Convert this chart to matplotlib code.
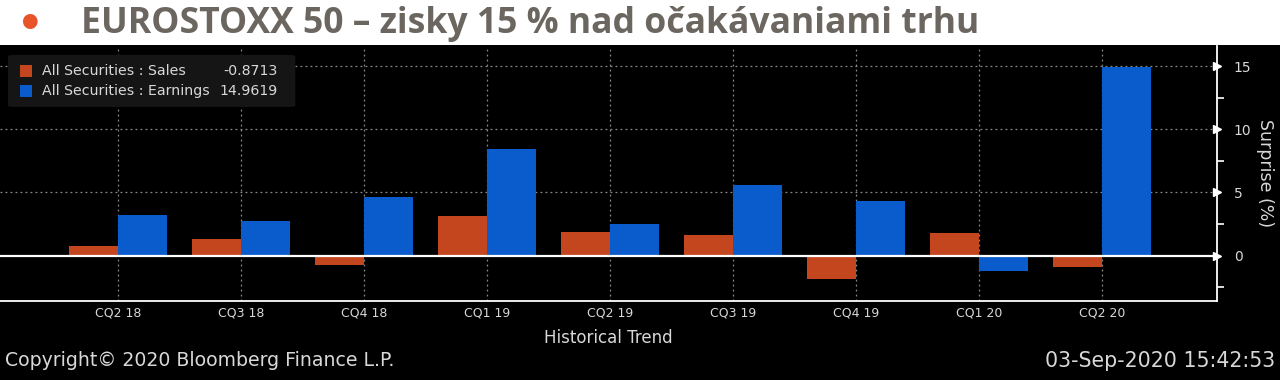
import numpy as np
import matplotlib
matplotlib.use("Agg")
import matplotlib.pyplot as plt
from matplotlib.patches import Rectangle, FancyBboxPatch
from matplotlib.ticker import MultipleLocator

# ── Data ──────────────────────────────────────────────────────────────
QUARTERS = ["CQ2 18", "CQ3 18", "CQ4 18", "CQ1 19", "CQ2 19",
            "CQ3 19", "CQ4 19", "CQ1 20", "CQ2 20"]
SALES    = [0.74, 1.35, -0.74, 3.12, 1.88, 1.61, -1.83, 1.75, -0.8713]
EARNINGS = [3.2, 2.72, 4.6, 8.47, 2.52, 5.6, 4.34, -1.19, 14.9619]
Y_TICKS  = [0, 5, 10, 15]

TITLE = "EUROSTOXX 50 – zisky 15 % nad očakávaniami trhu"
C_SALES, C_EARN = "#c4461f", "#0a5bcb"
FG = "#d8d8d8"

fig = plt.figure(figsize=(12.8, 3.8), dpi=100)
fig.patch.set_facecolor("white")
fig.patches.append(Rectangle((0, 0), 1, 1 - 45 / 380, transform=fig.transFigure,
                             facecolor="black", edgecolor="none", zorder=-5))

fig.text(0.0135, 0.935, "•", color="#e8542a", fontsize=30, fontweight="bold",
         va="center", ha="left", family="DejaVu Sans")
fig.text(0.063, 0.937, TITLE, color="#6b6660", fontsize=25.6, fontweight="bold",
         va="center", ha="left", family="Open Sans")

ax = fig.add_axes([0.0, 1 - 301 / 380, 1217 / 1280, (301 - 46) / 380], zorder=2)
ax.set_facecolor("black")

x = np.arange(len(QUARTERS))
w = 0.395
ax.bar(x - w / 2, SALES, w, color=C_SALES, zorder=2)
ax.bar(x + w / 2, EARNINGS, w, color=C_EARN, zorder=2)

ax.set_xlim(-0.96, 8.935)
ax.set_ylim(-3.6, 16.6)
ax.axhline(0, color="white", linewidth=1.6, zorder=3)

for yv in [5, 10, 15]:
    ax.axhline(yv, color="#8a8a8a", linestyle=(0, (1.5, 2.5)), linewidth=0.9, zorder=1)
for xv in x:
    ax.axvline(xv, color="#8a8a8a", linestyle=(0, (1.5, 2.5)), linewidth=0.9, zorder=1)

for s in ["top", "left"]:
    ax.spines[s].set_visible(False)
for s in ["bottom", "right"]:
    ax.spines[s].set_color("white")
    ax.spines[s].set_linewidth(1.3)

ax.yaxis.tick_right()
ax.yaxis.set_label_position("right")
ax.set_yticks(Y_TICKS)
ax.yaxis.set_minor_locator(MultipleLocator(2.5))
ax.tick_params(axis="y", which="major", colors="white", labelcolor=FG,
               length=0, pad=12, labelsize=10)
ax.tick_params(axis="y", which="minor", colors="white", length=5, width=1.2)
ax.plot([1.0] * len(Y_TICKS), Y_TICKS, marker=">", color="white", markersize=6,
        linestyle="none", transform=ax.get_yaxis_transform(), clip_on=False,
        zorder=5)
ax.set_ylabel("Surprise (%)", color=FG, fontsize=12.5, rotation=-90, labelpad=16)

ax.set_xticks(x)
ax.set_xticklabels(QUARTERS)
ax.tick_params(axis="x", colors="white", labelcolor=FG, length=0, pad=4,
               labelsize=9)
ax.set_xlabel("Historical Trend", color=FG, fontsize=12, labelpad=7)

# legend box
ax.add_patch(FancyBboxPatch((0.0066, 0.761), 0.236, 0.204, transform=ax.transAxes,
                            boxstyle="round,pad=0,rounding_size=0.005",
                            facecolor="#151515", edgecolor="none", zorder=4))
for i, (lab, val, col) in enumerate([("All Securities : Sales", "-0.8713", C_SALES),
                                     ("All Securities : Earnings", "14.9619", C_EARN)]):
    yy = 0.902 - i * 0.078
    ax.add_patch(Rectangle((0.0164, yy - 0.024), 0.0099, 0.048, transform=ax.transAxes,
                           facecolor=col, edgecolor="none", zorder=5))
    ax.text(0.0345, yy, lab, transform=ax.transAxes, color=FG, fontsize=10.2,
            va="center", ha="left", zorder=6)
    ax.text(0.2285, yy, val, transform=ax.transAxes, color=FG, fontsize=10.2,
            va="center", ha="right", zorder=6)

fig.text(0.004, 0.05, "Copyright© 2020 Bloomberg Finance L.P.", color=FG,
         fontsize=13.6, va="center", ha="left")
fig.text(0.996, 0.05, "03-Sep-2020 15:42:53", color=FG,
         fontsize=14.8, va="center", ha="right")

fig.savefig("out.png", dpi=100, facecolor=fig.get_facecolor())
